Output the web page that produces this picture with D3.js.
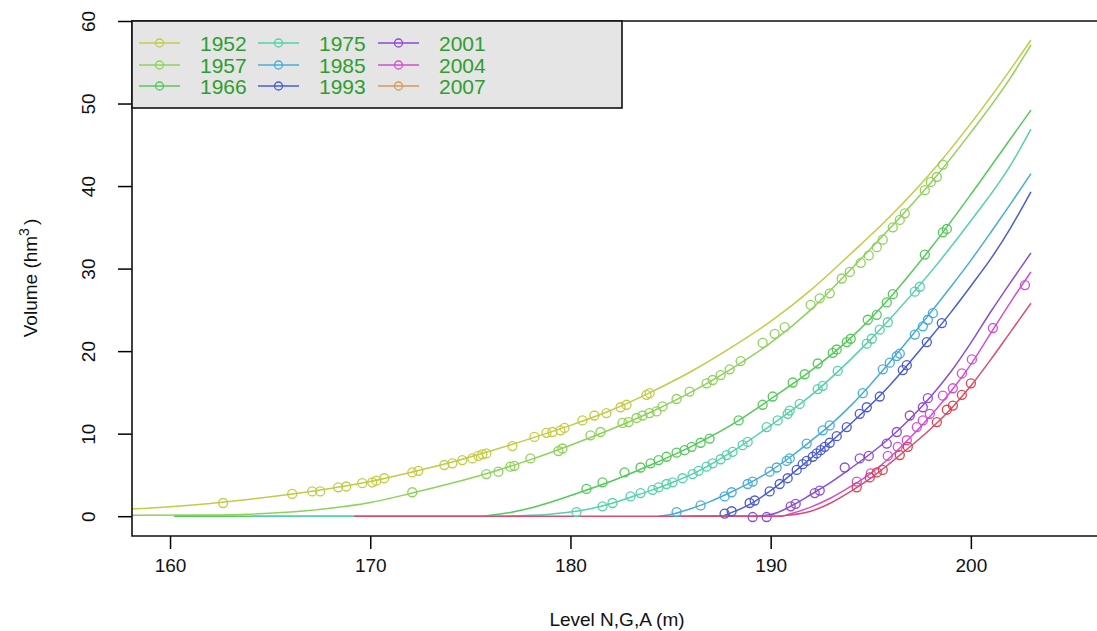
<!DOCTYPE html>
<html>
<head>
<meta charset="utf-8">
<script src="https://cdn.jsdelivr.net/npm/d3@7"></script>
<style>
  body { margin: 0; background: #fff; }
  svg { display: block; font-family: "Liberation Sans", Arial, sans-serif; }
</style>
</head>
<body>
<svg id="chart" width="1097" height="631"></svg>
<script>
// Survey years and their colours
const years = ["1952", "1957", "1966", "1975", "1985", "1993", "2001", "2004", "2007"];
const lineColors = ["#c3cb45", "#8fd25a", "#55c95a", "#55d1ab", "#48acd6", "#4a5cd3", "#8a4dd6", "#d24fcf", "#dc4b72"];
const pointColors = ["#c3cb45", "#8fd25a", "#55c95a", "#55d1ab", "#48acd6", "#4a5cd3", "#8a4dd6", "#d24fcf", "#d94646"];
const legendColors = ["#c3cb45", "#8fd25a", "#55c95a", "#55d1ab", "#48acd6", "#4a5cd3", "#8a4dd6", "#d24fcf", "#d6995a"];

const xTicks = [160, 170, 180, 190, 200];
const yTicks = [0, 10, 20, 30, 40, 50, 60];

// Fitted level-volume curves: [level (m), volume (hm3)]
const curve1952 = [[158,0.85],[160,1.15],[162,1.55],[164,2.05],[166,2.65],[168,3.35],[170,4.2],[172,5.3],[174,6.5],[176,7.9],[178,9.4],[180,11.0],[182,12.8],[184,15.0],[186,17.5],[188,20.4],[190,23.6],[192,27.4],[194,31.8],[196,36.4],[198,41.6],[200,47.6],[202,54.2],[203,57.7]];
const curve1957 = [[158,0.1],[162,0.15],[164,0.25],[166,0.5],[168,0.95],[170,1.65],[172,2.75],[174,3.95],[176,5.3],[178,6.85],[180,8.6],[182,10.5],[184,12.6],[186,15.0],[188,17.8],[190,21.0],[192,25.0],[194,29.9],[196,35.0],[198,40.4],[200,46.5],[202,53.2],[203,57.1]];
const curve1966 = [[160.2,0],[175.5,0],[176,0.1],[177,0.45],[178,1.0],[179,1.7],[180,2.5],[182,4.2],[184,6.2],[186,8.4],[188,11.0],[190,14.2],[192,17.6],[194,21.6],[196,26.6],[198,32.5],[200,39.0],[202,45.8],[203,49.2]];
const curve1975 = [[164.1,0],[176,0],[178,0.1],[179,0.25],[180,0.5],[181,0.9],[182,1.5],[183,2.3],[184,3.1],[185,4.0],[186,5.0],[188,7.7],[190,11.0],[192,14.6],[194,19.0],[196,24.0],[198,29.6],[200,35.8],[202,42.6],[203,46.9]];
const curve1985 = [[184.4,0],[185,0.2],[186,0.9],[187,1.8],[188,2.9],[189,4.1],[190,5.5],[191,7.2],[192,9.1],[193,11.1],[194,13.4],[195,16.0],[196,18.8],[197,21.7],[198,24.7],[199,27.8],[200,31.0],[201,34.4],[202,37.9],[203,41.5]];
const curve1993 = [[185.5,0],[187.5,0],[188,0.4],[189,1.5],[190,3.1],[191,5.0],[192,7.0],[193,9.0],[194,11.2],[195,13.5],[196,16.0],[197,18.8],[198,21.7],[199,24.7],[200,27.9],[201,31.2],[202,35.0],[203,39.3]];
const curve2001 = [[187,0],[189,0],[190,0.2],[191,1.2],[192,2.6],[193,4.1],[194,5.8],[195,7.6],[196,9.6],[197,11.9],[198,14.5],[199,17.5],[200,21.0],[201,24.8],[202,28.4],[203,31.9]];
const curve2004 = [[186,0],[190.5,0],[191,0.3],[192,1.1],[193,2.2],[194,3.6],[195,5.2],[196,7.2],[197,9.6],[198,12.2],[199,15.1],[200,18.4],[201,22.2],[202,26.0],[203,29.6]];
const curve2007 = [[169.2,0],[190,0],[191,0.15],[192,0.6],[193,1.6],[194,3.0],[195,4.6],[196,6.5],[197,8.5],[198,10.6],[199,13.0],[200,15.8],[201,19.0],[202,22.4],[203,25.8]];

// Surveyed points: [level (m), volume (hm3)]
const obs1952 = [[162.65,1.6],[166.1,2.7],[167.1,3.0],[167.5,3.0],[168.4,3.5],[168.8,3.6],[169.6,4.0],[170.1,4.1],[170.3,4.3],[170.7,4.6],[172.1,5.3],[172.4,5.5],[173.7,6.2],[174.1,6.4],[174.6,6.8],[175.1,7.0],[175.4,7.3],[175.6,7.5],[175.8,7.6],[177.1,8.5],[178.2,9.6],[178.8,10.1],[179.1,10.2],[179.5,10.4],[179.7,10.7],[180.6,11.6],[181.2,12.2],[181.8,12.5],[182.5,13.2],[182.8,13.5],[183.8,14.7],[183.95,14.9]];
const obs1957 = [[172.1,2.9],[175.8,5.1],[176.4,5.4],[177.0,6.0],[177.2,6.1],[178.0,7.0],[179.4,7.9],[179.6,8.2],[181.0,9.8],[181.5,10.2],[182.6,11.3],[182.9,11.4],[183.3,11.9],[183.6,12.2],[183.95,12.5],[184.3,12.7],[184.6,13.3],[185.3,14.2],[185.95,15.1],[186.8,16.1],[187.1,16.5],[187.5,17.1],[187.95,17.8],[188.5,18.8],[189.6,21.0],[190.2,22.1],[190.7,22.9],[192.0,25.6],[192.45,26.4],[192.95,27.0],[193.55,28.8],[193.95,29.6],[194.5,30.7],[194.9,31.6],[195.3,32.6],[195.6,33.5],[196.1,35.0],[196.45,35.9],[196.7,36.7],[197.7,39.5],[198.0,40.5],[198.3,41.1],[198.6,42.6]];
const obs1966 = [[180.8,3.3],[181.6,4.1],[182.7,5.3],[183.5,5.9],[184.0,6.4],[184.4,6.8],[184.8,7.2],[185.3,7.7],[185.7,8.0],[186.05,8.4],[186.5,8.9],[186.95,9.4],[188.4,11.6],[189.6,13.5],[190.1,14.5],[191.1,16.2],[191.7,17.2],[192.35,18.5],[193.1,19.8],[193.3,20.2],[193.8,21.1],[194.0,21.5],[194.85,23.8],[195.3,24.4],[195.8,25.9],[196.1,26.9],[197.7,31.7],[198.6,34.4],[198.8,34.8]];
const obs1975 = [[180.3,0.5],[181.6,1.2],[182.1,1.6],[183.0,2.4],[183.5,2.8],[184.1,3.2],[184.4,3.5],[184.8,3.9],[185.1,4.1],[185.6,4.6],[186.1,5.1],[186.4,5.5],[186.8,6.0],[187.1,6.4],[187.5,6.9],[187.8,7.4],[188.1,7.8],[188.6,8.6],[188.85,9.0],[189.8,10.8],[190.35,11.6],[190.85,12.4],[190.95,12.8],[191.45,13.6],[192.35,15.4],[192.6,15.8],[193.35,17.6],[194.8,20.9],[195.05,21.5],[195.45,22.6],[195.85,23.5],[197.2,27.2],[197.45,27.8]];
const obs1985 = [[185.3,0.5],[186.5,1.3],[187.7,2.4],[188.05,2.9],[188.85,3.9],[189.1,4.2],[189.95,5.4],[190.3,5.9],[190.8,6.7],[190.95,7.0],[191.8,8.8],[192.6,10.4],[192.95,11.0],[194.6,14.9],[195.6,17.8],[195.95,18.6],[196.3,19.4],[196.45,19.7],[197.2,22.0],[197.6,23.0],[197.85,23.8],[198.1,24.6]];
const obs1993 = [[187.7,0.3],[188.05,0.6],[188.95,1.6],[189.2,1.9],[189.95,3.0],[190.45,3.9],[190.85,4.6],[191.3,5.6],[191.6,6.3],[191.8,6.7],[192.1,7.2],[192.3,7.6],[192.5,8.0],[192.7,8.4],[192.95,8.9],[193.3,9.7],[193.8,10.8],[194.45,12.4],[194.8,13.2],[195.45,14.5],[196.6,17.7],[196.8,18.3],[197.8,21.1],[198.55,23.4]];
const obs2001 = [[189.1,-0.1],[189.8,-0.1],[191.0,1.2],[191.25,1.5],[192.2,2.8],[192.45,3.1],[193.7,5.9],[194.45,7.0],[194.9,7.3],[195.8,8.8],[196.3,10.2],[196.95,12.2],[197.6,13.2],[197.85,14.3]];
const obs2004 = [[194.3,4.2],[195.0,5.2],[195.85,7.3],[196.35,8.4],[196.8,9.2],[197.3,10.8],[197.6,11.6],[197.95,12.4],[198.6,14.6],[199.1,15.5],[199.55,17.3],[200.05,19.0],[201.1,22.8],[202.7,28.0]];
const obs2007 = [[194.3,3.5],[194.95,4.7],[195.3,5.3],[195.6,5.6],[196.45,7.4],[196.85,8.4],[198.3,11.4],[198.8,12.9],[199.1,13.4],[199.55,14.7],[200.0,16.1]];

const curves = [curve1952, curve1957, curve1966, curve1975, curve1985, curve1993, curve2001, curve2004, curve2007];
const observations = [obs1952, obs1957, obs1966, obs1975, obs1985, obs1993, obs2001, obs2004, obs2007];

const svg = d3.select("#chart");
const plot = { left: 132, right: 1097, top: 21, bottom: 536 };

const x = d3.scaleLinear().domain([158.1, 206.3]).range([plot.left, plot.right]);
const y = d3.scaleLinear().domain([-2.4, 60]).range([plot.bottom, plot.top]);

svg.append("rect").attr("width", 1097).attr("height", 631).attr("fill", "#fff");

svg.append("defs").append("clipPath").attr("id", "plot-clip")
  .append("rect")
  .attr("x", plot.left).attr("y", plot.top)
  .attr("width", plot.right - plot.left).attr("height", plot.bottom - plot.top);

const body = svg.append("g").attr("clip-path", "url(#plot-clip)");

const line = d3.line()
  .x(d => x(d[0]))
  .y(d => y(d[1]))
  .curve(d3.curveMonotoneX);

// Curves first, then each year's points on top
years.forEach((yr, i) => {
  body.append("path")
    .datum(curves[i])
    .attr("d", line)
    .attr("fill", "none")
    .attr("stroke", lineColors[i])
    .attr("stroke-width", 1.5);
});

years.forEach((yr, i) => {
  body.append("g")
    .selectAll("circle")
    .data(observations[i])
    .join("circle")
    .attr("cx", d => x(d[0]))
    .attr("cy", d => y(d[1]))
    .attr("r", 4.5)
    .attr("fill", "none")
    .attr("stroke", pointColors[i])
    .attr("stroke-width", 1.3);
});

// Axes
const xAxis = svg.append("g")
  .attr("transform", `translate(0,${plot.bottom})`)
  .call(d3.axisBottom(x).tickValues(xTicks).tickSize(13).tickPadding(10).tickFormat(d3.format("d")));
xAxis.select(".domain").remove();
xAxis.selectAll("line").attr("stroke", "#000").attr("stroke-width", 1.5);
xAxis.selectAll("text").attr("font-size", 19).attr("fill", "#111")
  .attr("font-family", '"Liberation Sans", Arial, sans-serif');

const yAxis = svg.append("g")
  .attr("transform", `translate(${plot.left},0)`)
  .call(d3.axisLeft(y).tickValues(yTicks).tickSize(14).tickFormat(d3.format("d")));
yAxis.select(".domain").remove();
yAxis.selectAll("line").attr("stroke", "#000").attr("stroke-width", 1.5);
yAxis.selectAll("text")
  .attr("transform", "rotate(-90)")
  .attr("x", 0).attr("y", -37).attr("dy", 0)
  .attr("text-anchor", "middle")
  .attr("font-size", 19).attr("fill", "#111")
  .attr("font-family", '"Liberation Sans", Arial, sans-serif');

// Plot frame (open on the right, where the panel runs off the page)
svg.append("path")
  .attr("d", `M${plot.right + 5},${plot.top}H${plot.left}V${plot.bottom}H${plot.right + 5}`)
  .attr("fill", "none").attr("stroke", "#111").attr("stroke-width", 1.6);

// Axis titles
svg.append("text")
  .attr("x", 617).attr("y", 626)
  .attr("text-anchor", "middle")
  .attr("font-size", 19).attr("fill", "#111")
  .text("Level N,G,A (m)");

const yTitle = svg.append("text")
  .attr("transform", "translate(37,278) rotate(-90)")
  .attr("text-anchor", "middle")
  .attr("font-size", 19).attr("fill", "#111");
yTitle.append("tspan").text("Volume (hm");
yTitle.append("tspan").attr("dy", -8).attr("font-size", 14).text("3");
yTitle.append("tspan").attr("dy", 8).attr("dx", 3).text(")");

// Legend
const legend = svg.append("g");
legend.append("rect")
  .attr("x", plot.left).attr("y", plot.top)
  .attr("width", 490).attr("height", 87)
  .attr("fill", "#e5e5e5").attr("stroke", "#111").attr("stroke-width", 1.6);

const colX = [139, 258, 378];
const rowY = [43, 65, 86];
years.forEach((yr, i) => {
  const cx = colX[Math.floor(i / 3)];
  const cy = rowY[i % 3];
  const g = legend.append("g");
  g.append("line")
    .attr("x1", cx).attr("x2", cx + 41).attr("y1", cy).attr("y2", cy)
    .attr("stroke", legendColors[i]).attr("stroke-width", 1.5);
  g.append("circle")
    .attr("cx", cx + 20.5).attr("cy", cy).attr("r", 4)
    .attr("fill", "none").attr("stroke", legendColors[i]).attr("stroke-width", 1.3);
  g.append("text")
    .attr("x", cx + 61).attr("y", cy + 7.5)
    .attr("font-size", 21).attr("fill", "#2e9e2e")
    .text(yr);
});
</script>
</body>
</html>
